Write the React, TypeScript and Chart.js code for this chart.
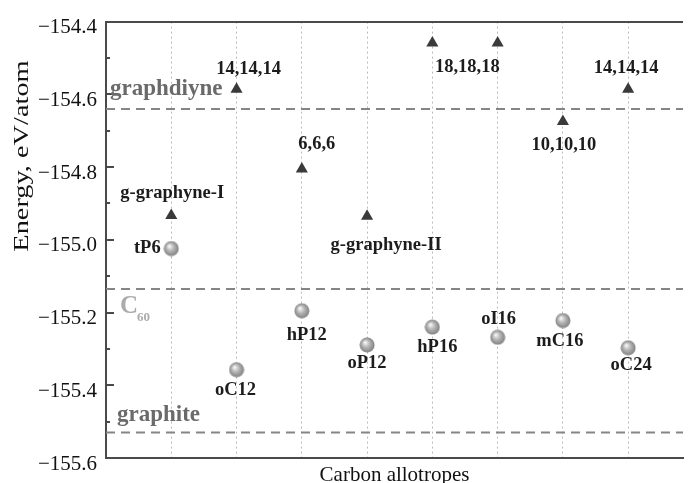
import React, { useEffect, useRef } from 'react';
import { Chart, registerables } from 'chart.js';

Chart.register(...registerables);

// ---------- data ----------
const allotropePositions = [1, 2, 3, 4, 5, 6, 7, 8];
const triangleEnergies = [-154.933, -154.586, -154.805, -154.935, -154.459, -154.459, -154.675, -154.586];
const triangleLabels = ['g-graphyne-I', '14,14,14', '6,6,6', 'g-graphyne-II', '18,18,18', '', '10,10,10', '14,14,14'];
const sphereEnergies = [-155.024, -155.357, -155.195, -155.289, -155.24, -155.268, -155.222, -155.297];
const sphereLabels = ['tP6', 'oC12', 'hP12', 'oP12', 'hP16', 'oI16', 'mC16', 'oC24'];
const referenceNames = ['graphdiyne', 'C60', 'graphite'];
const referenceEnergies = [-154.64, -155.135, -155.53];
const yMin = -155.6;
const yMax = -154.4;
const xAxisTitle = 'Carbon allotropes';
const yAxisTitle = 'Energy, eV/atom';

// ---------- layout / style (pixel offsets for annotations) ----------
const FONT = "'Liberation Serif', 'Times New Roman', serif";
const triangleLabelOffsets: [number, number][] = [[1, -22], [12, -20], [15, -25], [19, 29], [35, 24], [0, 0], [1, 24], [-2, -21]];
const sphereLabelOffsets: [number, number][] = [[-24, 0], [-1, 21], [5, 25], [0, 18], [5, 20], [1, -18], [-3, 21], [3, 17]];
const X_MAX = 8.84;

function makeSphere(): HTMLCanvasElement {
  const c = document.createElement('canvas');
  c.width = 16;
  c.height = 16;
  const g = c.getContext('2d')!;
  const grad = g.createRadialGradient(6, 5.5, 0.5, 8, 8, 8);
  grad.addColorStop(0, '#f6f6f6');
  grad.addColorStop(0.45, '#b4b4b4');
  grad.addColorStop(1, '#7c7c7c');
  g.fillStyle = grad;
  g.beginPath();
  g.arc(8, 8, 7.5, 0, Math.PI * 2);
  g.fill();
  return c;
}

const annotationPlugin = {
  id: 'annotations',
  afterDatasetsDraw(chart: any) {
    const { ctx, chartArea, scales } = chart;
    const xs = scales.x;
    const ys = scales.y;
    ctx.save();
    // inward tick marks on left axis
    ctx.strokeStyle = '#4a4a4a';
    ctx.lineWidth = 2;
    for (let i = 0; i <= 12; i++) {
      const v = yMin + i * 0.1;
      const py = Math.round(ys.getPixelForValue(v));
      const len = i % 2 === 0 ? 8 : 4;
      ctx.beginPath();
      ctx.moveTo(chartArea.left, py);
      ctx.lineTo(chartArea.left + len, py);
      ctx.stroke();
    }
    // point labels
    ctx.textAlign = 'center';
    ctx.textBaseline = 'middle';
    ctx.fillStyle = '#1c1c1c';
    ctx.font = `bold 18.5px ${FONT}`;
    allotropePositions.forEach((xv, i) => {
      const t = triangleLabels[i];
      if (t) {
        const [dx, dy] = triangleLabelOffsets[i];
        ctx.fillText(t, xs.getPixelForValue(xv) + dx, ys.getPixelForValue(triangleEnergies[i]) + dy);
      }
      const s = sphereLabels[i];
      if (s) {
        const [dx, dy] = sphereLabelOffsets[i];
        ctx.fillText(s, xs.getPixelForValue(xv) + dx, ys.getPixelForValue(sphereEnergies[i]) + dy);
      }
    });
    // reference labels
    ctx.textAlign = 'left';
    const l = chartArea.left;
    ctx.fillStyle = '#6a6a6a';
    ctx.font = `bold 23px ${FONT}`;
    ctx.fillText(referenceNames[0], l + 4, ys.getPixelForValue(referenceEnergies[0]) - 20);
    ctx.fillText(referenceNames[2], l + 11, ys.getPixelForValue(referenceEnergies[2]) - 17);
    ctx.fillStyle = '#ababab';
    ctx.font = `bold 25px ${FONT}`;
    const cy = ys.getPixelForValue(referenceEnergies[1]) + 18;
    ctx.fillText(referenceNames[1].charAt(0), l + 14, cy);
    const cw = ctx.measureText('C').width;
    ctx.font = `bold 13px ${FONT}`;
    ctx.fillText(referenceNames[1].slice(1), l + 14 + cw - 1, cy + 11);
    // y axis title
    ctx.fillStyle = '#111';
    ctx.font = `21px ${FONT}`;
    ctx.translate(22, 156);
    ctx.rotate(-Math.PI / 2);
    ctx.scale(1.35, 1);
    ctx.textAlign = 'center';
    ctx.fillText(yAxisTitle, 0, 0);
    ctx.restore();
  },
};

export default function App() {
  const ref = useRef<HTMLCanvasElement>(null);
  useEffect(() => {
    const sphere = makeSphere();
    const refDatasets = referenceEnergies.map((e, i) => ({
      type: 'line' as const,
      label: referenceNames[i],
      data: [{ x: 0, y: e }, { x: X_MAX, y: e }],
      borderColor: '#858585',
      borderWidth: 2,
      borderDash: [9, 6],
      pointRadius: 0,
      showLine: true,
      fill: false,
    }));
    const chart = new Chart(ref.current!, {
      type: 'scatter',
      data: {
        datasets: [
          {
            label: 'chains',
            data: allotropePositions.map((x, i) => ({ x, y: triangleEnergies[i] })),
            pointStyle: 'triangle',
            pointRadius: 7,
            backgroundColor: '#3a3a3a',
            borderColor: '#3a3a3a',
            borderWidth: 0,
          },
          {
            label: 'allotropes',
            data: allotropePositions.map((x, i) => ({ x, y: sphereEnergies[i] })),
            pointStyle: sphere as any,
            pointRadius: 8,
          },
          ...refDatasets,
        ] as any,
      },
      options: {
        animation: false,
        responsive: false,
        layout: { padding: { top: 16, right: 0, left: 0, bottom: 0 } },
        plugins: { legend: { display: false }, tooltip: { enabled: false } },
        scales: {
          x: {
            type: 'linear',
            min: 0,
            max: X_MAX,
            afterBuildTicks: (s: any) => {
              s.ticks = allotropePositions.map((v) => ({ value: v }));
            },
            afterFit: (s: any) => {
              s.height = 25;
            },
            ticks: { display: false },
            grid: { color: '#b9b9b9', lineWidth: 1, drawTicks: false },
            border: { display: true, color: '#4a4a4a', width: 2, dash: [2, 3] },
            title: {
              display: true,
              text: xAxisTitle,
              color: '#111',
              font: { family: FONT, size: 21, lineHeight: 0.75 },
              padding: 0,
            },
          },
          y: {
            type: 'linear',
            min: yMin,
            max: yMax,
            afterFit: (s: any) => {
              s.width = 106;
            },
            ticks: {
              stepSize: 0.2,
              padding: 9,
              labelOffset: 6,
              color: '#111',
              font: { family: FONT, size: 21 },
              callback: (v: any) => '\u2212' + Math.abs(Number(v)).toFixed(1),
            },
            grid: {
              drawTicks: false,
              lineWidth: 2,
              color: (c: any) => (c.tick && Math.abs(c.tick.value - yMax) < 1e-6 ? '#4a4a4a' : 'rgba(0,0,0,0)'),
            },
            border: { display: true, color: '#4a4a4a', width: 2 },
          },
        },
      } as any,
      plugins: [annotationPlugin],
    });
    return () => chart.destroy();
  }, []);
  return (
    <div style={{ position: 'fixed', left: 0, top: 0, width: 692, height: 483, background: '#fff' }}>
      <canvas ref={ref} width={692} height={483} style={{ display: 'block' }} />
    </div>
  );
}
